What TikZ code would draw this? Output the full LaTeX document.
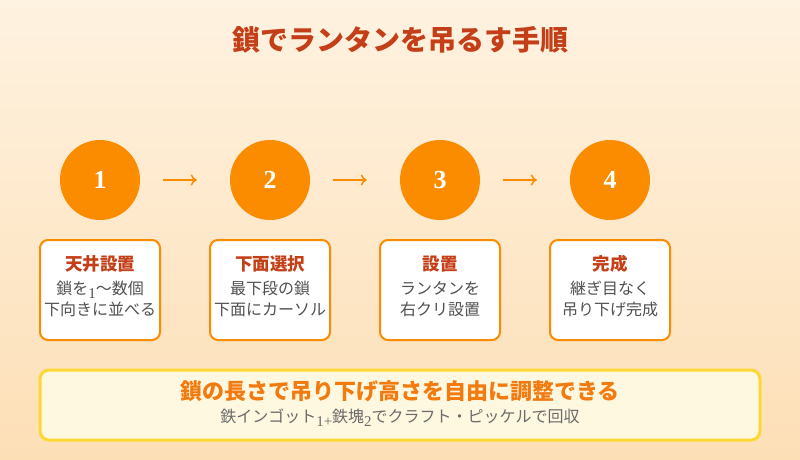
\documentclass[tikz,border=0pt]{standalone}
\usepackage{fontspec}
\setmainfont{Noto Sans CJK JP}
\newfontfamily\serifnum{Liberation Serif}
\usetikzlibrary{arrows.meta}
\definecolor{bgtop}{HTML}{FEF2E0}
\definecolor{bgbot}{HTML}{FDDFB6}
\definecolor{titlered}{HTML}{C43E17}
\definecolor{orangec}{HTML}{FB8C00}
\definecolor{bodygray}{HTML}{505050}
\definecolor{notefill}{HTML}{FFF8E1}
\definecolor{noteedge}{HTML}{FDD835}
\definecolor{noteorange}{HTML}{F27A0E}
\tikzset{
  stepcircle/.style={circle, fill=orangec, minimum size=80pt, inner sep=0pt, text=white, font=\serifnum\bfseries\fontsize{26}{26}\selectfont},
  stepbox/.style={draw=orangec, line width=2pt, fill=white, rounded corners=8pt, minimum width=120pt, minimum height=100pt, inner sep=0pt},
  boxtitle/.style={text=titlered, font=\bfseries\fontsize{17.5}{19}\selectfont},
  boxbody/.style={text=bodygray, font=\fontsize{16}{21}\selectfont, align=center},
  flow/.style={draw=orangec, line width=1.5pt, -{To[length=6pt,width=11pt]}},
}
\newcommand{\lowdig}[1]{\raisebox{-4pt}{\serifnum\fontsize{15}{15}\selectfont #1}}
\begin{document}
\begin{tikzpicture}[x=1pt,y=-1pt]
\shade[top color=bgtop, bottom color=bgbot] (0,0) rectangle (800,460);
\useasboundingbox (0,0) rectangle (800,460);
\node[text=titlered, font=\bfseries\fontsize{28}{30}\selectfont] (title) at (400,40) {鎖でランタンを吊るす手順};
\node[stepcircle] (c1) at (100,180) {1};
\node[stepcircle] (c2) at (270,180) {2};
\node[stepcircle] (c3) at (440,180) {3};
\node[stepcircle] (c4) at (610,180) {4};
\draw[flow, shorten <=23pt, shorten >=33pt] (c1) -- (c2);
\draw[flow, shorten <=23pt, shorten >=33pt] (c2) -- (c3);
\draw[flow, shorten <=23pt, shorten >=33pt] (c3) -- (c4);
\node[stepbox] (b1) at (100,290) {};
\node[stepbox] (b2) at (270,290) {};
\node[stepbox] (b3) at (440,290) {};
\node[stepbox] (b4) at (610,290) {};
\node[boxtitle] (t1) at (100,264) {天井設置};
\node[boxtitle] (t2) at (270,264) {下面選択};
\node[boxtitle] (t3) at (440,264) {設置};
\node[boxtitle] (t4) at (610,264) {完成};
\node[boxbody] (d1) at (100,299) {鎖を\lowdig{1}～数個\\下向きに並べる};
\node[boxbody] (d2) at (270,299) {最下段の鎖\\下面にカーソル};
\node[boxbody] (d3) at (440,299) {ランタンを\\右クリ設置};
\node[boxbody] (d4) at (610,299) {継ぎ目なく\\吊り下げ完成};
\node[draw=noteedge, line width=3pt, fill=notefill, rounded corners=9pt, minimum width=720pt, minimum height=70pt, inner sep=0pt] (note) at (400,405) {};
\node[text=noteorange, font=\bfseries\fontsize{22}{24}\selectfont] (nh) at (400,391) {鎖の長さで吊り下げ高さを自由に調整できる};
\node[text=bodygray!85, font=\fontsize{16}{18}\selectfont] (ns) at (400,418) {鉄インゴット\lowdig{1+}鉄塊\lowdig{2}でクラフト・ピッケルで回収};
\end{tikzpicture}
\end{document}
